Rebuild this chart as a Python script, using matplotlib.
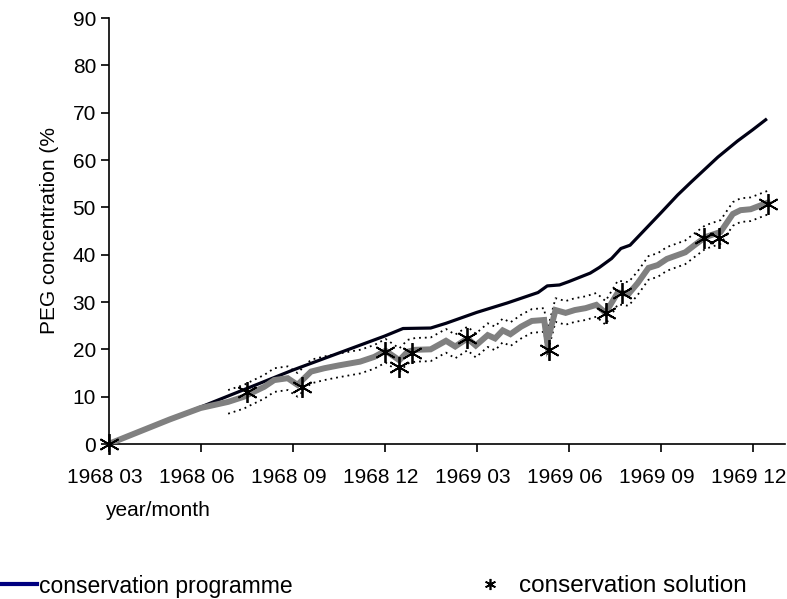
import matplotlib
matplotlib.use("Agg")
import matplotlib.pyplot as plt
from matplotlib.lines import Line2D
from matplotlib.transforms import ScaledTranslation

plt.rcParams['font.family'] = ['Liberation Sans', 'DejaVu Sans']

# months counted from March 1968
tick_months = [0, 3, 6, 9, 12, 15, 18, 21]
tick_labels = ["1968 03", "1968 06", "1968 09", "1968 12",
               "1969 03", "1969 06", "1969 09", "1969 12"]

# conservation programme (planned PEG concentration)
prog_months = [0, 1, 2, 3, 4, 5, 6, 7, 8, 9, 9.6, 10.5, 11, 12, 13, 14, 14.3, 14.7,
               15, 15.7, 16, 16.4, 16.7, 17.0, 17.5, 18.0, 18.55, 19.0, 19.86,
               20.5, 21.0, 21.42]
prog_values = [0, 2.6, 5.2, 7.8, 10.4, 13.0, 15.6, 18.0, 20.4, 22.8, 24.4, 24.5,
               25.5, 27.8, 29.8, 32.0, 33.4, 33.6, 34.3, 36.1, 37.3, 39.2, 41.3,
               42.0, 45.4, 48.8, 52.6, 55.4, 60.6, 64.0, 66.4, 68.5]

# measured concentration of the bath
bath_months = [0, 1, 2, 3, 3.9, 4.42, 4.6, 5.08, 5.4, 5.84, 6.16, 6.6, 7.03, 7.5,
               8.2, 8.66, 9.03, 9.48, 9.75, 10.0, 10.5, 11.0, 11.3, 11.7, 11.97,
               12.36, 12.6, 12.85, 13.1, 13.45, 13.8, 14.2, 14.3, 14.57, 14.9,
               15.2, 15.55, 15.9, 16.2, 16.6, 16.95, 17.25, 17.6, 17.9, 18.2,
               18.8, 19.1, 19.45, 19.95, 20.35, 20.6, 20.93, 21.49]
bath_values = [0, 2.6, 5.2, 7.6, 8.9, 10.0, 10.6, 12.1, 13.5, 13.9, 12.5, 15.3,
               16.0, 16.6, 17.4, 18.4, 19.7, 17.7, 19.5, 19.9, 20.0, 21.8, 20.6,
               22.3, 20.8, 23.0, 22.3, 24.0, 23.2, 24.8, 26.0, 26.2, 21.5, 28.3,
               27.7, 28.3, 28.7, 29.4, 27.7, 32.0, 31.7, 34.0, 37.2, 37.8, 39.1,
               40.5, 42.0, 43.7, 44.8, 48.6, 49.4, 49.6, 51.0]

# tolerance band around the bath measurements
band_months = bath_months[4:]
band_upper = [11.4, 12.5, 13.1, 14.6, 16.0, 16.4, 15.0, 17.8, 18.5, 19.1, 19.9,
              20.9, 22.2, 20.2, 22.0, 22.4, 22.5, 24.3, 23.1, 24.8, 23.3, 25.5,
              24.8, 26.5, 25.7, 27.3, 28.5, 28.7, 24.0, 30.8, 30.2, 30.8, 31.2,
              31.9, 30.2, 34.5, 34.2, 36.5, 39.7, 40.3, 41.6, 43.0, 44.5, 46.2,
              47.3, 51.1, 51.9, 52.1, 53.5]
band_lower = [6.4, 7.5, 8.1, 9.6, 11.0, 11.4, 10.0, 12.8, 13.5, 14.1, 14.9, 15.9,
              17.2, 15.2, 17.0, 17.4, 17.5, 19.3, 18.1, 19.8, 18.3, 20.5, 19.8,
              21.5, 20.7, 22.3, 23.5, 23.7, 19.0, 25.8, 25.2, 25.8, 26.2, 26.9,
              25.2, 29.5, 29.2, 31.5, 34.7, 35.3, 36.6, 38.0, 39.5, 41.2, 42.3,
              46.1, 46.9, 47.1, 48.5]

# conservation solution samples
sample_months = [0, 4.53, 6.3, 9.0, 9.48, 9.9, 11.7, 14.35, 16.2, 16.75, 19.4,
                 19.9, 21.5]
sample_values = [0, 11.0, 12.0, 19.5, 16.3, 19.2, 22.4, 19.8, 27.7, 31.8, 43.6,
                 43.6, 50.8]

asterisk = (6, 2, 0)

fig = plt.figure(figsize=(7.87, 5.99), dpi=100)
ax = fig.add_axes([108.5 / 787, 1 - 444 / 599, (785 - 108.5) / 787, (444 - 18) / 599])

dots = (0, (1.0, 2.2))
ax.plot(band_months, band_upper, color="black", lw=1.3, ls=dots, zorder=2)
ax.plot(band_months, band_lower, color="black", lw=1.3, ls=dots, zorder=2)
ax.plot(prog_months, prog_values, color="#000014", lw=2.3, zorder=3,
        solid_joinstyle="round")
ax.plot(bath_months, bath_values, color="#808080", lw=4.3, zorder=4,
        solid_joinstyle="miter")
ax.plot(sample_months, sample_values, ls="none", marker=asterisk, ms=15,
        mec="black", mew=1.3, color="black", zorder=5, clip_on=False)

ax.set_xlim(0, 22.05)
ax.set_ylim(0, 90)
ax.set_xticks(tick_months)
ax.set_xticklabels(tick_labels)
ax.set_yticks(range(0, 91, 10))
for side in ("top", "right"):
    ax.spines[side].set_visible(False)
for side in ("left", "bottom"):
    ax.spines[side].set_linewidth(1.2)
ax.tick_params(direction="out", length=6, width=1.2, labelsize=15)
ax.tick_params(axis="x", pad=11)
ax.tick_params(axis="y", pad=3)
shift = ScaledTranslation(-0.04, 0, fig.dpi_scale_trans)
for lbl in ax.get_xticklabels():
    lbl.set_transform(lbl.get_transform() + shift)

ax.set_ylabel("PEG concentration (%", fontsize=15, labelpad=10)
fig.text(105 / 787, 1 - 510 / 599, "year/month", fontsize=15, va="center", ha="left")

h_prog = Line2D([], [], color="#000080", lw=3)
h_samp = Line2D([], [], ls="none", marker=asterisk, ms=8, mec="black", mew=1.2)
fig.legend(handles=[h_prog], labels=["conservation programme"], loc="center left",
           bbox_to_anchor=(0 / 787, 1 - 586 / 599), frameon=False, fontsize=16.5,
           handlelength=1.6, handletextpad=0.1, borderpad=0, borderaxespad=0)
fig.legend(handles=[h_samp], labels=["conservation solution"], loc="center left",
           bbox_to_anchor=(478 / 787, 1 - 586 / 599), frameon=False, fontsize=17.5,
           handlelength=1.0, handletextpad=0.7, borderpad=0, borderaxespad=0)

fig.savefig("out.png", dpi=100)
